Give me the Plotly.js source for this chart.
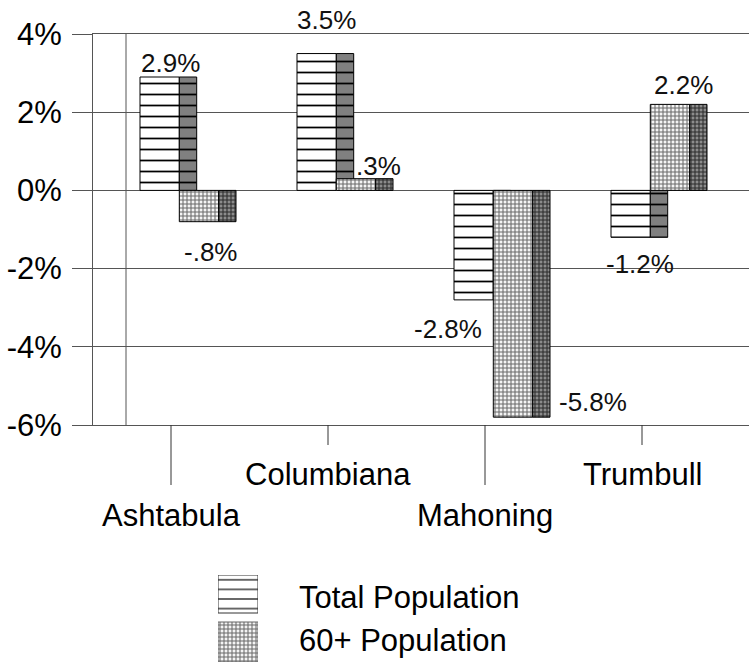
<!DOCTYPE html>
<html><head><meta charset="utf-8">
<script src="https://cdn.plot.ly/plotly-3.0.1.min.js"></script>
<style>html,body{margin:0;padding:0;background:#fff}#chart{width:749px;height:667px}</style>
</head><body><div id="chart"></div>
<script>
// ---- data ----
const categories = ['Ashtabula', 'Columbiana', 'Mahoning', 'Trumbull'];
const totalPop = [2.9, 3.5, -2.8, -1.2];
const pop60 = [-0.8, 0.3, -5.8, 2.2];
const totalLabels = ['2.9%', '3.5%', '-2.8%', '-1.2%'];
const pop60Labels = ['-.8%', '.3%', '-5.8%', '2.2%'];
const seriesNames = ['Total Population', '60+ Population'];
const yTickVals = [-6, -4, -2, 0, 2, 4];
const yTickText = ['-6%', '-4%', '-2%', '0%', '2%', '4%'];

// ---- geometry (pixels) ----
const W = 749, H = 667;
const plotL = 93, plotR = 749, plotT = 34, plotB = 425;
const catPx = 157, tick0 = 171;
const u = px => px / catPx;
const font = 'Liberation Sans, Arial, sans-serif';
const grid = '#555';
const idx = categories.map((c, i) => i);

// bar pieces: [offsetPx, widthPx] relative to the category tick
const totFront = [-31, 39.3], totSide = [8.3, 17.4], p60Front = [8.3, 39.4], p60Side = [47.7, 17.3];
const totCenter = u((totFront[0] + totSide[0] + totSide[1]) / 2);
const p60Center = u((p60Front[0] + p60Side[0] + p60Side[1]) / 2);

const stripes = (bg) => ({shape: '-', fgcolor: '#000', bgcolor: bg, size: 11, solidity: 0.16});
const dots = (fg, bg) => ({shape: '+', fgcolor: fg, bgcolor: bg, size: 4, solidity: 0.45});

function piece(name, y, geo, pattern) {
  return {type: 'bar', name: name, x: idx, y: y, offset: u(geo[0]), width: u(geo[1]),
    marker: {color: pattern.bgcolor, pattern: pattern, line: {color: '#000', width: 1}},
    showlegend: false, hoverinfo: 'skip', xaxis: 'x', yaxis: 'y'};
}

const traces = [
  piece(seriesNames[0], totalPop, totFront, stripes('#ffffff')),
  piece(seriesNames[0], totalPop, totSide, stripes('#808080')),
  piece(seriesNames[1], pop60, p60Front, dots('#6a6a6a', '#f4f4f4')),
  piece(seriesNames[1], pop60, p60Side, dots('#2a2a2a', '#8c8c8c')),
  // legend keys (own small axis)
  {type: 'bar', x: [0.5], y: [38], base: [49], width: [1], xaxis: 'x2', yaxis: 'y2',
   marker: {color: '#fff', pattern: {shape: '-', fgcolor: '#000', bgcolor: '#fff', size: 9.6, solidity: 0.12}, line: {color: '#333', width: 1}},
   showlegend: false, hoverinfo: 'skip'},
  {type: 'bar', x: [0.5], y: [40], base: [0], width: [1], xaxis: 'x2', yaxis: 'y2',
   marker: {color: '#fff', pattern: dots('#6a6a6a', '#f4f4f4'), line: {color: '#666', width: 1}},
   showlegend: false, hoverinfo: 'skip'}
];

// data labels: shifts [dx, dy] in px from the bar end
const totShift = [[2, 14], [1, 34], [-34, -29], [1, -27]];
const p60Shift = [[3, -30], [14, 13], [71, 15], [5, 19]];
const annotations = [];
idx.forEach(i => {
  annotations.push({x: i + totCenter, y: totalPop[i], xref: 'x', yref: 'y', text: totalLabels[i], showarrow: false,
    xanchor: 'center', yanchor: 'middle', xshift: totShift[i][0], yshift: totShift[i][1], font: {family: font, size: 26, color: '#111'}});
  annotations.push({x: i + p60Center, y: pop60[i], xref: 'x', yref: 'y', text: pop60Labels[i], showarrow: false,
    xanchor: 'center', yanchor: 'middle', xshift: p60Shift[i][0], yshift: p60Shift[i][1], font: {family: font, size: 26, color: '#111'}});
  const lower = i % 2 === 0;
  annotations.push({x: i, y: 1 - (lower ? 515 : 474) / H, xref: 'x', yref: 'paper', text: categories[i], showarrow: false,
    xanchor: 'center', yanchor: 'middle', font: {family: font, size: 31, color: '#000'}});
});
seriesNames.forEach((n, k) => {
  annotations.push({x: 297 / W, y: 1 - [597, 640][k] / H, xref: 'paper', yref: 'paper', text: n, showarrow: false,
    xanchor: 'left', yanchor: 'middle', font: {family: font, size: 31, color: '#000'}});
});

const shapes = [
  {type: 'line', xref: 'x', yref: 'y', x0: u(126 - tick0), x1: u(126 - tick0), y0: -6, y1: 4, line: {color: grid, width: 1}, layer: 'below'}
];
idx.forEach(i => {
  const lower = i % 2 === 0;
  shapes.push({type: 'line', xref: 'x', yref: 'paper', x0: i, x1: i, y0: 1 - plotB / H, y1: 1 - (lower ? 485 : 445) / H,
    line: {color: '#333', width: 1}});
});

const layout = {
  width: W, height: H, margin: {l: 0, r: 0, t: 0, b: 0}, paper_bgcolor: '#fff', plot_bgcolor: '#fff',
  barmode: 'overlay', showlegend: false, bargap: 0,
  xaxis: {domain: [plotL / W, plotR / W], range: [u(plotL - tick0), u(plotR - tick0)], showgrid: false, zeroline: false,
    showticklabels: false, ticks: '', showline: true, mirror: true, linecolor: grid, linewidth: 1, fixedrange: true},
  yaxis: {domain: [1 - plotB / H, 1 - plotT / H], range: [-6, 4], tickvals: yTickVals, ticktext: yTickText,
    showgrid: true, gridcolor: grid, gridwidth: 1, zeroline: false, showline: true, linecolor: grid, linewidth: 1,
    ticks: 'outside', ticklen: 20, tickcolor: grid, tickwidth: 1, ticklabelstandoff: 4,
    tickfont: {family: font, size: 31, color: '#000'}, fixedrange: true},
  xaxis2: {domain: [218 / W, 258 / W], range: [0, 1], anchor: 'y2', visible: false, fixedrange: true},
  yaxis2: {domain: [5 / H, 92 / H], range: [0, 87], anchor: 'x2', visible: false, fixedrange: true},
  annotations: annotations, shapes: shapes
};

Plotly.newPlot('chart', traces, layout, {displayModeBar: false, staticPlot: true});
</script></body></html>
